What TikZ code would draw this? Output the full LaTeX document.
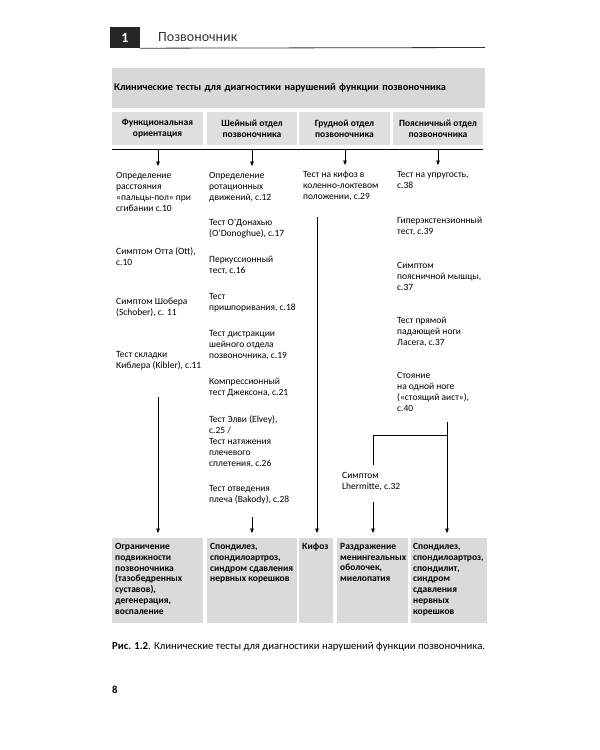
\documentclass[tikz,border=0pt]{standalone}
\usepackage{fontspec}
\setmainfont{Carlito}
\usetikzlibrary{arrows.meta}
\definecolor{bandgray}{HTML}{D8D8D8}
\definecolor{boxgray}{HTML}{DFDFDF}
\definecolor{resgray}{HTML}{DADADA}

\begin{document}
\begin{tikzpicture}[x=1pt,y=-1pt,
        hdr/.style={fill=boxgray, minimum height=33pt, inner sep=0pt, align=center,
            font=\bfseries\fontsize{9.5}{11}\selectfont},
        txt/.style={anchor=north west, inner sep=0pt, align=left,
            font=\fontsize{9.5}{11}\selectfont},
        res/.style={fill=resgray, anchor=north west, inner sep=0pt, minimum height=85pt},
        restxt/.style={anchor=north west, inner sep=0pt, align=left,
            font=\bfseries\fontsize{9.5}{10.8}\selectfont},
        arr/.style={-{Triangle[length=4.5pt,width=3.6pt]}, line width=0.6pt}]
        \useasboundingbox[fill=white] (0,0) rectangle (600,750);

        % záhlaví stránky
        \node[fill=black!85, text=white, minimum width=30pt, minimum height=21pt, inner sep=0pt,
            font=\bfseries\fontsize{14}{14}\selectfont] (chap) at (125,37.5) {1};
        \node[anchor=west, inner sep=0pt, text=black!80, font=\fontsize{14}{14}\selectfont] (chaptitle) at (158,37) {Позвоночник};
        \coordinate (ruleend) at (485,47.5);
        \draw[line width=0.8pt, black!80] (chap.south east) -- (ruleend);

        % název
        \node[fill=bandgray, anchor=north west, minimum height=40pt, text width=369pt, inner xsep=2pt,
            align=left, font=\bfseries\fontsize{10.3}{12}\selectfont] (title) at (112,68)
            {Клинические тесты для диагностики нарушений функции позвоночника};

        % sloupce
        \node[hdr, minimum width=91pt] (h1) at (157.5,128.5) {Функциональная\\ориентация};
        \node[hdr, minimum width=90pt] (h2) at (252,128.5) {Шейный отдел\\позвоночника};
        \node[hdr, minimum width=91pt] (h3) at (344.5,128.5) {Грудной отдел\\позвоночника};
        \node[hdr, minimum width=90pt] (h4) at (438,128.5) {Поясничный отдел\\позвоночника};
        \coordinate (hl) at (112,149);
        \coordinate (hr) at (483,149);
        \draw[line width=1pt] (hl) -- (hr);

        % funkční orientace
        \node[txt] (t1a) at (116,172) {Определение\\расстояния\\«пальцы-пол» при\\сгибании с.10};
        \node[txt] (t1b) at (116,247) {Симптом Отта (Ott),\\с.10};
        \node[txt] (t1c) at (116,298) {Симптом Шобера\\(Schober), с. 11};
        \node[txt] (t1d) at (116,351) {Тест складки\\Киблера (Kibler), с.11};

        % krční páteř
        \node[txt] (t2a) at (209,172) {Определение\\ротационных\\движений, с.12};
        \node[txt] (t2b) at (209,219) {Тест О’Донахью\\(O’Donoghue), с.17};
        \node[txt] (t2c) at (209,256) {Перкуссионный\\тест, с.16};
        \node[txt] (t2d) at (209,293) {Тест\\пришпоривания, с.18};
        \node[txt] (t2e) at (209,330) {Тест дистракции\\шейного отдела\\позвоночника, с.19};
        \node[txt] (t2f) at (209,378) {Компрессионный\\тест Джексона, с.21};
        \node[txt] (t2g) at (209,415) {Тест Элви (Elvey),\\с.25 /\\Тест натяжения\\плечевого\\сплетения, с.26};
        \node[txt] (t2h) at (209,485) {Тест отведения\\плеча (Bakody), с.28};

        % hrudní páteř
        \node[txt] (t3a) at (303,171) {Тест на кифоз в\\коленно-локтевом\\положении, с.29};

        % bederní páteř
        \node[txt] (t4a) at (397,171) {Тест на упругость,\\с.38};
        \node[txt] (t4b) at (397,217) {Гиперэкстензионный\\тест, с.39};
        \node[txt] (t4c) at (397,262) {Симптом\\поясничной мышцы,\\с.37};
        \node[txt] (t4d) at (397,317) {Тест прямой\\падающей ноги\\Ласега, с.37};
        \node[txt] (t4e) at (397,372) {Стояние\\на одной ноге\\(«стоящий аист»),\\с.40};
        \node[txt] (t4f) at (342,472) {Симптом\\Lhermitte, с.32};

        % výsledky
        \node[res, minimum width=91pt] (b1) at (112,538) {};
        \node[res, minimum width=90pt] (b2) at (207,538) {};
        \node[res, minimum width=34pt] (b3) at (299,538) {};
        \node[res, minimum width=71pt] (b4) at (337,538) {};
        \node[res, minimum width=76pt] (b5) at (411,538) {};
        \node[restxt] (r1) at ([xshift=3pt,yshift=-5pt]b1.north west) {Ограничение\\подвижности\\позвоночника\\(тазобедренных\\суставов),\\дегенерация,\\воспаление};
        \node[restxt] (r2) at ([xshift=3pt,yshift=-5pt]b2.north west) {Спондилез,\\спондилоартроз,\\синдром сдавления\\нервных корешков};
        \node[restxt] (r3) at ([xshift=3pt,yshift=-5pt]b3.north west) {Кифоз};
        \node[restxt] (r4) at ([xshift=3pt,yshift=-5pt]b4.north west) {Раздражение\\менингеальных\\оболочек,\\миелопатия};
        \node[restxt] (r5) at ([xshift=2pt,yshift=-5pt]b5.north west) {Спондилез,\\спондилоартроз,\\спондилит,\\синдром\\сдавления\\нервных\\корешков};

        % šipky z hlavní linky
        \coordinate (a1) at (158,149);
        \coordinate (a2) at (252,149);
        \coordinate (a3) at (345,149);
        \coordinate (a4) at (438,149);
        \draw[arr, shorten >=6pt] (a1) -- (a1 |- t1a.north);
        \draw[arr, shorten >=6pt] (a2) -- (a2 |- t2a.north);
        \draw[arr, shorten >=6pt] (a3) -- (a3 |- t3a.north);
        \draw[arr, shorten >=6pt] (a4) -- (a4 |- t4a.north);

        % šipky k výsledkům
        \coordinate (s1) at (158,397);
        \coordinate (s2) at (252,517);
        \coordinate (s3) at (317,217);
        \coordinate (s4) at (447,422);
        \coordinate (s5) at (373,502);
        \coordinate (br) at (447,435);
        \coordinate (bl) at (373,435);
        \coordinate (be) at (373,465);
        \draw[arr, shorten >=5pt] (s1) -- (s1 |- b1.north);
        \draw[arr, shorten >=5pt] (s2) -- (s2 |- b2.north);
        \draw[arr, shorten >=5pt] (s3) -- (s3 |- b3.north);
        \draw[arr, shorten >=5pt] (s4) -- (s4 |- b5.north);
        \draw[line width=0.6pt] (br) -- (bl) -- (be);
        \draw[arr, shorten >=5pt] (s5) -- (s5 |- b4.north);

        % popisek
        \node[anchor=west, inner sep=0pt, font=\fontsize{10.7}{12}\selectfont] (caption) at (112,647)
            {\textbf{Рис. 1.2}. Клинические тесты для диагностики нарушений функции позвоночника.};
        \node[anchor=west, inner sep=0pt, font=\bfseries\fontsize{10.7}{12}\selectfont] (pagenum) at (112,690) {8};
    \end{tikzpicture}
\end{document}
